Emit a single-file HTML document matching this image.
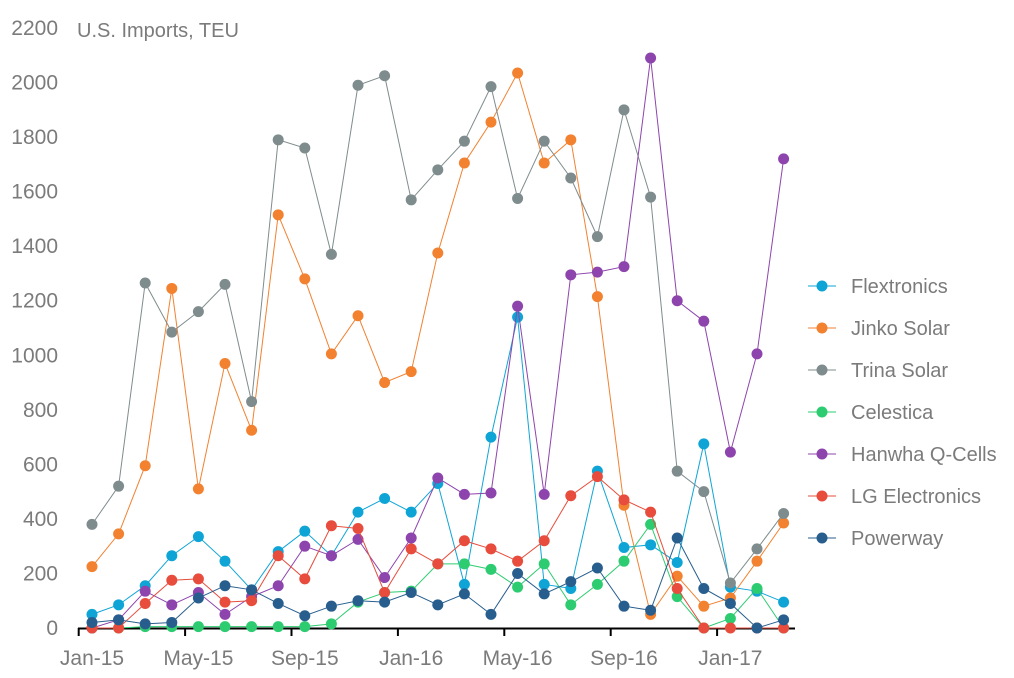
<!DOCTYPE html>
<html><head><meta charset="utf-8"><style>
body{margin:0;background:#fff;}
svg text{font-family:"Liberation Sans",sans-serif;fill:#7b7b7b;}
</style></head><body>
<svg id="c" width="1014" height="673" xmlns="http://www.w3.org/2000/svg"></svg>
<script>
const s=document.getElementById('c');
const X=i=>92+i*26.6, Y=v=>628-v*0.27273;
let h='';
for(let v=0;v<=2200;v+=200){h+=`<text x="58" y="${Y(v)+7}" font-size="21" text-anchor="end">${v}</text>`;}
h+=`<text x="77" y="37" font-size="20">U.S. Imports, TEU</text>`;
h+=`<line x1="78" y1="628.5" x2="795" y2="628.5" stroke="#000" stroke-width="2"/>`;
for(let i=0;i<27;i+=4){h+=`<line x1="${X(i)-13.3}" y1="628" x2="${X(i)-13.3}" y2="636" stroke="#000" stroke-width="2"/>`;}
[['Jan-15',0],['May-15',4],['Sep-15',8],['Jan-16',12],['May-16',16],['Sep-16',20],['Jan-17',24]].forEach(([t,i])=>{h+=`<text x="${X(i)}" y="665" font-size="21" text-anchor="middle">${t}</text>`;});
const S=[
['Flextronics','#0ea5d6',[50,85,155,265,335,245,140,280,355,265,425,475,425,530,160,700,1140,160,145,575,295,305,240,675,150,135,95]],
['Jinko Solar','#f28130',[225,345,595,1245,510,970,725,1515,1280,1005,1145,900,940,1375,1705,1855,2035,1705,1790,1215,450,50,190,80,110,245,385]],
['Trina Solar','#7f8c8d',[380,520,1265,1085,1160,1260,830,1790,1760,1370,1990,2025,1570,1680,1785,1985,1575,1785,1650,1435,1900,1580,575,500,165,290,420]],
['Celestica','#2ecc71',[0,0,5,5,5,5,5,5,5,15,95,130,135,235,235,215,150,235,85,160,245,380,115,0,35,145,0]],
['Hanwha Q-Cells','#8e44ad',[0,30,135,85,130,50,115,155,300,265,325,185,330,550,490,495,1180,490,1295,1305,1325,2090,1200,1125,645,1005,1720]],
['LG Electronics','#e74c3c',[0,0,90,175,180,95,100,265,180,375,365,130,290,235,320,290,245,320,485,555,470,425,145,0,0,0,0]],
['Powerway','#285e8e',[20,30,15,20,110,155,140,90,45,80,100,95,130,85,125,50,200,125,170,220,80,65,330,145,90,0,30]]];
S.forEach(([n,c,d],k)=>{
 h+=`<polyline fill="none" stroke="${c}" stroke-width="1" points="${d.map((v,i)=>X(i)+','+Y(v)).join(' ')}"/>`;
 d.forEach((v,i)=>{h+=`<circle cx="${X(i)}" cy="${Y(v)}" r="5.5" fill="${c}"/>`;});
 const ly=286+k*42;
 h+=`<line x1="808" y1="${ly}" x2="836" y2="${ly}" stroke="${c}"/><circle cx="822" cy="${ly}" r="5.5" fill="${c}"/>`;
 h+=`<text x="851" y="${ly+7}" font-size="20">${n}</text>`;
});
s.innerHTML=h;
</script>
</body></html>
